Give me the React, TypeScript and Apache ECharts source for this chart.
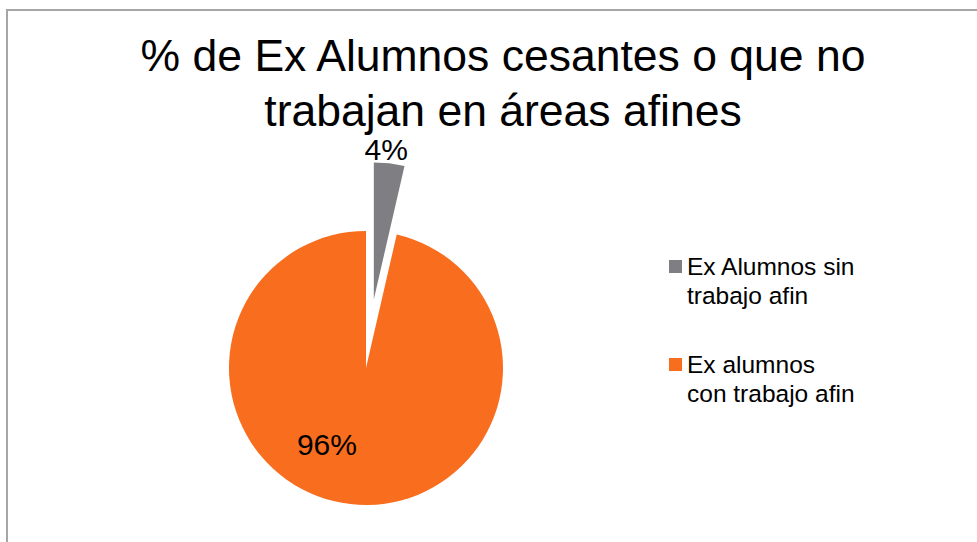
import { useEffect, useRef } from "react";
import * as echarts from "echarts";

const titleLines = ["% de Ex Alumnos cesantes o que no", "trabajan en áreas afines"];
const categories = ["Ex Alumnos sin trabajo afin", "Ex alumnos con trabajo afin"];
const legendLabels = ["Ex Alumnos sin\ntrabajo afin", "Ex alumnos\ncon trabajo afin"];
const values = [3.6, 96.4];
const colors = ["#7F7F83", "#F96D1E"];

export default function App() {
  const ref = useRef<HTMLDivElement>(null);
  useEffect(() => {
    const chart = echarts.init(ref.current!, null, { renderer: "svg" });
    const font = "'Liberation Sans', Arial, sans-serif";
    chart.setOption({
      animation: false,
      backgroundColor: "#ffffff",
      title: {
        text: titleLines.join("\n"),
        left: 498,
        top: 23,
        textAlign: "center",
        textStyle: {
          fontFamily: font,
          fontSize: 44.5,
          fontWeight: "normal",
          lineHeight: 55,
          color: "#000000",
        },
      },
      legend: {
        orient: "vertical",
        left: 669,
        top: 223,
        padding: 0,
        itemWidth: 13,
        itemHeight: 13,
        itemGap: 11,
        icon: "rect",
        selectedMode: false,
        data: categories.map((name, i) => ({ name, itemStyle: { color: colors[i] } })),
        formatter: (name: string) => "\n" + legendLabels[categories.indexOf(name)],
        textStyle: {
          fontFamily: font,
          fontSize: 24.5,
          lineHeight: 29,
          color: "#000000",
        },
      },
      graphic: [
        {
          type: "rect",
          silent: true,
          shape: { x: 7, y: 10, width: 1000, height: 600 },
          style: { fill: "none", stroke: "#a6a6a6", lineWidth: 2 },
        },
      ],
      series: [
        {
          type: "pie",
          center: [366, 368],
          radius: 137,
          startAngle: 90,
          clockwise: true,
          selectedMode: "single",
          selectedOffset: 69,
          avoidLabelOverlap: false,
          emphasis: { disabled: true },
          label: {
            show: true,
            fontFamily: font,
            fontSize: 30,
            color: "#000000",
            formatter: (p: any) => Math.round(p.percent) + "%",
          },
          labelLine: { show: false, length: 0, length2: 0 },
          labelLayout: (p: any) =>
            p.dataIndex === 0
              ? { align: "center", verticalAlign: "bottom", dx: -8, dy: 1 }
              : { dx: -31, dy: 5 },
          data: categories.map((name, i) => ({
            name,
            value: values[i],
            selected: i === 0,
            itemStyle: { color: colors[i] },
            select: { itemStyle: { color: colors[i] } },
            label: { position: i === 0 ? "outside" : "inside" },
          })),
        },
      ],
    });
    return () => chart.dispose();
  }, []);
  return (
    <div
      ref={ref}
      style={{ position: "fixed", left: 0, top: 0, width: 977, height: 542 }}
    />
  );
}
